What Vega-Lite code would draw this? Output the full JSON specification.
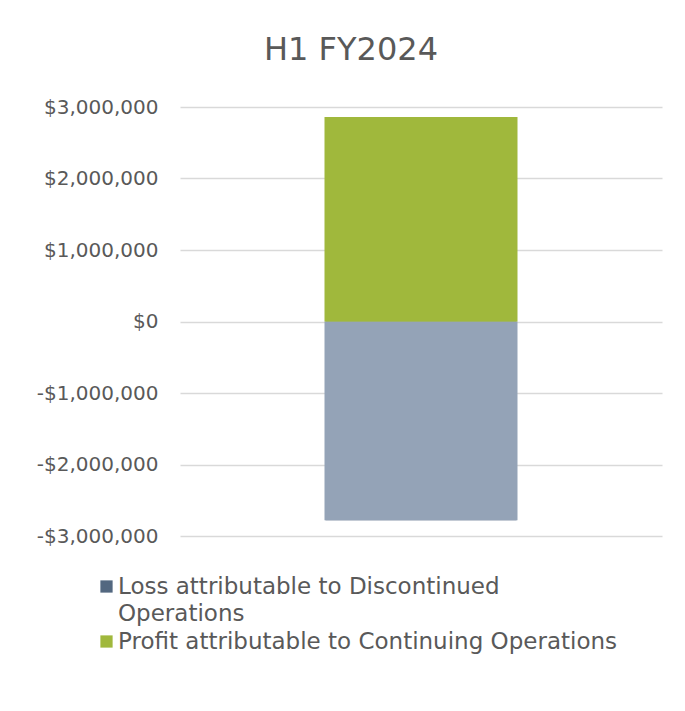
{
  "$schema": "https://vega.github.io/schema/vega-lite/v6.json",
  "width": 482,
  "height": 429,
  "autosize": "none",
  "padding": {"left": 180, "top": 107, "right": 23, "bottom": 175},
  "background": "white",
  "title": {
    "text": "H1 FY2024",
    "font": "DejaVu Sans",
    "fontSize": 32,
    "fontWeight": "normal",
    "color": "#595959",
    "anchor": "middle",
    "dx": -70,
    "offset": 30
  },
  "data": {
    "values": [
      {"cat": "H1 FY2024", "series": "Loss attributable to Discontinued Operations", "value": -2780000},
      {"cat": "H1 FY2024", "series": "Profit attributable to Continuing Operations", "value": 2860000}
    ]
  },
  "encoding": {
    "x": {"field": "cat", "type": "nominal", "axis": null},
    "y": {
      "field": "value",
      "type": "quantitative",
      "stack": "zero",
      "scale": {"domain": [-3000000, 3000000], "nice": false},
      "axis": {
        "title": null,
        "values": [-3000000, -2000000, -1000000, 0, 1000000, 2000000, 3000000],
        "labelExpr": "datum.value < 0 ? '-$' + format(-datum.value, ',') : '$' + format(datum.value, ',')",
        "labelFont": "DejaVu Sans",
        "labelFontSize": 20,
        "labelColor": "#595959",
        "labelPadding": 22,
        "domain": false,
        "ticks": false,
        "grid": true,
        "gridColor": "#d9d9d9",
        "gridWidth": 1.5
      }
    }
  },
  "layer": [
    {
      "mark": {"type": "bar", "size": 191},
      "encoding": {
        "color": {
          "field": "series",
          "type": "nominal",
          "scale": {
            "domain": ["Loss attributable to Discontinued Operations", "Profit attributable to Continuing Operations"],
            "range": ["#536880", "#a0b83c"]
          },
          "legend": {
            "title": null,
            "orient": "none",
            "legendX": -85,
            "legendY": 468,
            "direction": "vertical",
            "symbolType": "square",
            "symbolSize": 150,
            "symbolStrokeWidth": 0,
            "labelFont": "DejaVu Sans",
            "labelFontSize": 23,
            "labelColor": "#595959",
            "labelOffset": 0,
            "labelLimit": 600,
            "rowPadding": 4,
            "labelExpr": "datum.label == 'Loss attributable to Discontinued Operations' ? ['Loss attributable to Discontinued', 'Operations'] : datum.label",
            "encode": {
              "labels": {
                "update": {
                  "lineHeight": {"value": 27}
                }
              }
            }
          }
        }
      }
    },
    {
      "mark": {"type": "bar", "size": 193},
      "encoding": {
        "color": {
          "field": "series",
          "type": "nominal",
          "scale": {
            "domain": ["Loss attributable to Discontinued Operations", "Profit attributable to Continuing Operations"],
            "range": ["#94a3b7", "#a0b83c"]
          },
          "legend": null
        }
      }
    }
  ],
  "resolve": {"scale": {"color": "independent"}},
  "config": {"view": {"stroke": null}}
}
